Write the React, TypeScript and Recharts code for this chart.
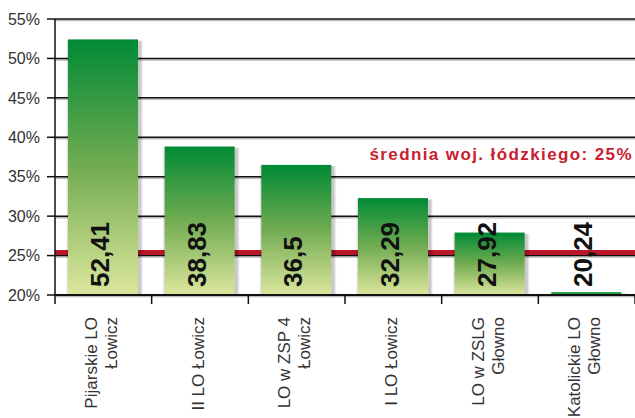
import React from "react";
import {
  BarChart, Bar, XAxis, YAxis, CartesianGrid, LabelList,
} from "recharts";

const schools = [
  "Pijarskie LO\nŁowicz",
  "II LO Łowicz",
  "LO w ZSP 4\nŁowicz",
  "I LO Łowicz",
  "LO w ZSLG\nGłowno",
  "Katolickie LO\nGłowno",
];
const scores = [52.41, 38.83, 36.5, 32.29, 27.92, 20.24];
const yTicks = [20, 25, 30, 35, 40, 45, 50, 55];
const yDomain = [20, 55];
const average = 25.4;
const averageLabel = "średnia woj. łódzkiego: 25%";

const data = schools.map((name, i) => ({ name, score: scores[i] }));

const FONT = "'Liberation Sans', Arial, Helvetica, sans-serif";
const CHART_W = 635;
const CHART_H = 418;

function XTick(props: any) {
  const { x, y, payload, index } = props;
  const half = payload.offset ?? 48;
  const lines: string[] = String(payload.value).split("\n");
  const top = y + 22;
  const spacing = 20;
  const start = -((lines.length - 1) * spacing) / 2;
  return (
    <g>
      {index === 0 && <line x1={x - half} x2={x - half} y1={y} y2={y + 9} stroke="#111" strokeWidth={1.5} />}
      <line x1={x + half} x2={x + half} y1={y} y2={y + 9} stroke="#111" strokeWidth={1.5} />
      {lines.map((ln, i) => {
        const lx = x - 2 + start + i * spacing;
        return (
          <text
            key={i}
            x={lx}
            y={top}
            transform={`rotate(-90 ${lx} ${top})`}
            textAnchor="end"
            dominantBaseline="central"
            fontSize={17}
            fontFamily={FONT}
            fill="#333"
          >
            {ln}
          </text>
        );
      })}
    </g>
  );
}

// bar with a soft shadow made of a few translucent rects (no svg filter)
function ShadowBar(props: any) {
  const { x, y, width, height } = props;
  if (height == null || width == null) return null;
  const thin = height < 4;
  const top = thin ? y - 1 : y;
  const h = thin ? 2 : height;
  return (
    <g>
      <rect x={x - 2} y={top + 1} width={width + 7} height={h + 4} fill="#000" fillOpacity={0.05} />
      <rect x={x - 1} y={top + 1} width={width + 5} height={h + 3} fill="#000" fillOpacity={0.07} />
      <rect x={x} y={top + 2} width={width + 3} height={h + 1} fill="#000" fillOpacity={0.1} />
      <rect x={x} y={top} width={width} height={h} fill={thin ? "#1e9a3c" : "url(#barGrad)"} />
    </g>
  );
}

function ValueLabel(props: any) {
  const { x, y, width, height, value } = props;
  const cx = x + width / 2 + 6;
  const base = y + height - 8;
  return (
    <text
      x={cx}
      y={base}
      transform={`rotate(-90 ${cx} ${base})`}
      textAnchor="start"
      fontSize={26}
      fontWeight="bold"
      fontFamily={FONT}
      fill="#111"
    >
      {String(value).replace(".", ",")}
    </text>
  );
}

const toPixel = (offset: any, v: number) =>
  offset.top + (offset.height * (yDomain[1] - v)) / (yDomain[1] - yDomain[0]);

// grey shadow under each grid line
const shadowLines = ({ offset }: any) => yTicks.map((t) => toPixel(offset, t) + 1.5);
// average line, drawn with the grid so the bars sit on top of it
const averageLines = ({ offset }: any) => [toPixel(offset, average)];

export default function App() {
  return (
    <div style={{ position: "absolute", left: 0, top: 0, width: CHART_W, height: CHART_H, background: "#fff" }}>
      <BarChart
        width={CHART_W}
        height={CHART_H}
        data={data}
        margin={{ top: 19, right: 0, left: 0, bottom: 0 }}
        barSize={70}
      >
        <defs>
          <linearGradient id="barGrad" x1="0" y1="0" x2="0" y2="1">
            <stop offset="0%" stopColor="#008a35" />
            <stop offset="50%" stopColor="#72ac52" />
            <stop offset="100%" stopColor="#dce69d" />
          </linearGradient>
        </defs>
        <CartesianGrid
          vertical={false}
          stroke="#bbb"
          strokeWidth={1.5}
          horizontalCoordinatesGenerator={shadowLines}
        />
        <CartesianGrid vertical={false} stroke="#111" strokeWidth={1.5} />
        <CartesianGrid
          vertical={false}
          stroke="#b8182a"
          strokeWidth={5}
          horizontalCoordinatesGenerator={averageLines}
        />
        <XAxis
          dataKey="name"
          interval={0}
          height={123}
          tickLine={false}
          tickSize={0}
          tickMargin={0}
          axisLine={{ stroke: "#111", strokeWidth: 2 }}
          tick={<XTick />}
        />
        <YAxis
          domain={yDomain}
          ticks={yTicks}
          width={55}
          tickSize={8}
          tickMargin={7}
          tickFormatter={(v) => `${v}%`}
          tick={{ fontSize: 16, fill: "#333", fontFamily: FONT }}
          tickLine={{ stroke: "#111", strokeWidth: 1.5 }}
          axisLine={{ stroke: "#111", strokeWidth: 1.5 }}
          allowDataOverflow
        />
        <Bar dataKey="score" shape={<ShadowBar />} isAnimationActive={false}>
          <LabelList dataKey="score" content={<ValueLabel />} />
        </Bar>
      </BarChart>
      <div
        style={{
          position: "absolute",
          right: 2,
          top: 145,
          fontFamily: FONT,
          fontWeight: "bold",
          fontSize: 17,
          letterSpacing: 1.4,
          color: "#c8202e",
          whiteSpace: "nowrap",
          lineHeight: "20px",
        }}
      >
        {averageLabel}
      </div>
    </div>
  );
}
